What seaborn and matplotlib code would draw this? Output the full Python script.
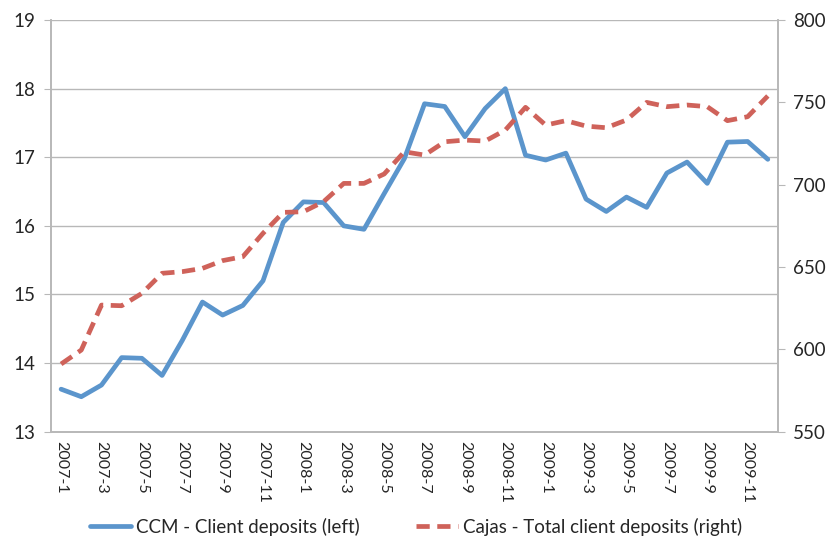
import matplotlib
matplotlib.use("Agg")
import matplotlib.pyplot as plt
import seaborn as sns
import pandas as pd
import numpy as np

months = [f"{y}-{m}" for y in (2007, 2008, 2009) for m in range(1, 13)]

ccm_deposits = [13.62, 13.51, 13.68, 14.08, 14.07, 13.82, 14.33, 14.89, 14.70, 14.84, 15.20, 16.05,
                16.35, 16.34, 16.00, 15.95, 16.47, 16.98, 17.78, 17.74, 17.30, 17.71, 18.00, 17.03,
                16.96, 17.06, 16.39, 16.21, 16.42, 16.27, 16.77, 16.93, 16.62, 17.22, 17.23, 16.97]

cajas_deposits = [591.1, 599.6, 626.9, 626.5, 634.0, 646.2, 647.2, 649.2, 653.9, 656.3, 670.5, 683.2,
                  683.6, 689.7, 700.8, 700.8, 706.5, 720.0, 718.0, 726.1, 727.1, 726.5, 733.2, 747.0,
                  736.2, 738.9, 735.6, 734.6, 739.3, 750.0, 747.4, 748.4, 747.4, 738.9, 741.3, 753.9]

left_ticks = [13, 14, 15, 16, 17, 18, 19]
right_ticks = [550, 600, 650, 700, 750, 800]

sns.set_style("white")
plt.rcParams['font.family'] = ['Lato', 'DejaVu Sans']

df = pd.DataFrame({"idx": np.arange(len(months)), "month": months,
                   "ccm": ccm_deposits, "cajas": cajas_deposits})

BLUE = "#5B95CC"
RED = "#CF625A"
GRID = "#B8B8B8"

fig = plt.figure(figsize=(8.32, 5.42), dpi=100)
ax = fig.add_axes([0.0613, 0.2035, 0.8737, 0.7595])
ax2 = ax.twinx()

sns.lineplot(data=df, x="idx", y="ccm", ax=ax, color=BLUE, linewidth=3.4, zorder=3,
             label="CCM - Client deposits (left)", legend=False)
sns.lineplot(data=df, x="idx", y="cajas", ax=ax2, color=RED, linewidth=3.4, zorder=3,
             label="Cajas - Total client deposits (right)", legend=False)
ax2.lines[0].set_dashes((2.8, 1.6))

n = len(months)
ax.set_xlim(-0.5, n - 0.5)
ax.set_ylim(13, 19)
ax2.set_ylim(550, 800)
ax.set_yticks(left_ticks)
ax.set_yticklabels([str(t) for t in left_ticks])
ax2.set_yticks(right_ticks)
ax2.set_yticklabels([str(t) for t in right_ticks])

ax.set_xticks(np.arange(0, n, 2))
ax.set_xticklabels(months[::2], rotation=270, fontsize=11.5)
ax.set_xticks(np.arange(-0.5, n, 1), minor=True)
ax.tick_params(axis="x", which="major", length=0, pad=7)
ax.tick_params(axis="x", which="minor", length=5, color=GRID, width=1, direction="out")
ax.tick_params(axis="y", length=5, color=GRID, direction="out", labelsize=13.5, pad=6)
ax2.tick_params(axis="y", length=5, color=GRID, direction="out", labelsize=13.5, pad=6)

ax.set_xlabel("")
ax.set_ylabel("")
ax2.set_ylabel("")

ax.grid(axis="y", color=GRID, linewidth=1)
ax.set_axisbelow(True)
for a in (ax, ax2):
    a.spines["top"].set_visible(False)
    for s in ("left", "right", "bottom"):
        a.spines[s].set_color(GRID)
        a.spines[s].set_linewidth(1.2)

h1, l1 = ax.get_legend_handles_labels()
h2, l2 = ax2.get_legend_handles_labels()
fig.legend(h1 + h2, l1 + l2, loc="center", bbox_to_anchor=(0.5, 0.028), ncol=2,
           frameon=False, fontsize=13.5, handlelength=2.2, columnspacing=3.0, handletextpad=0.3,
           borderpad=0)

fig.savefig("out.png", dpi=100)
